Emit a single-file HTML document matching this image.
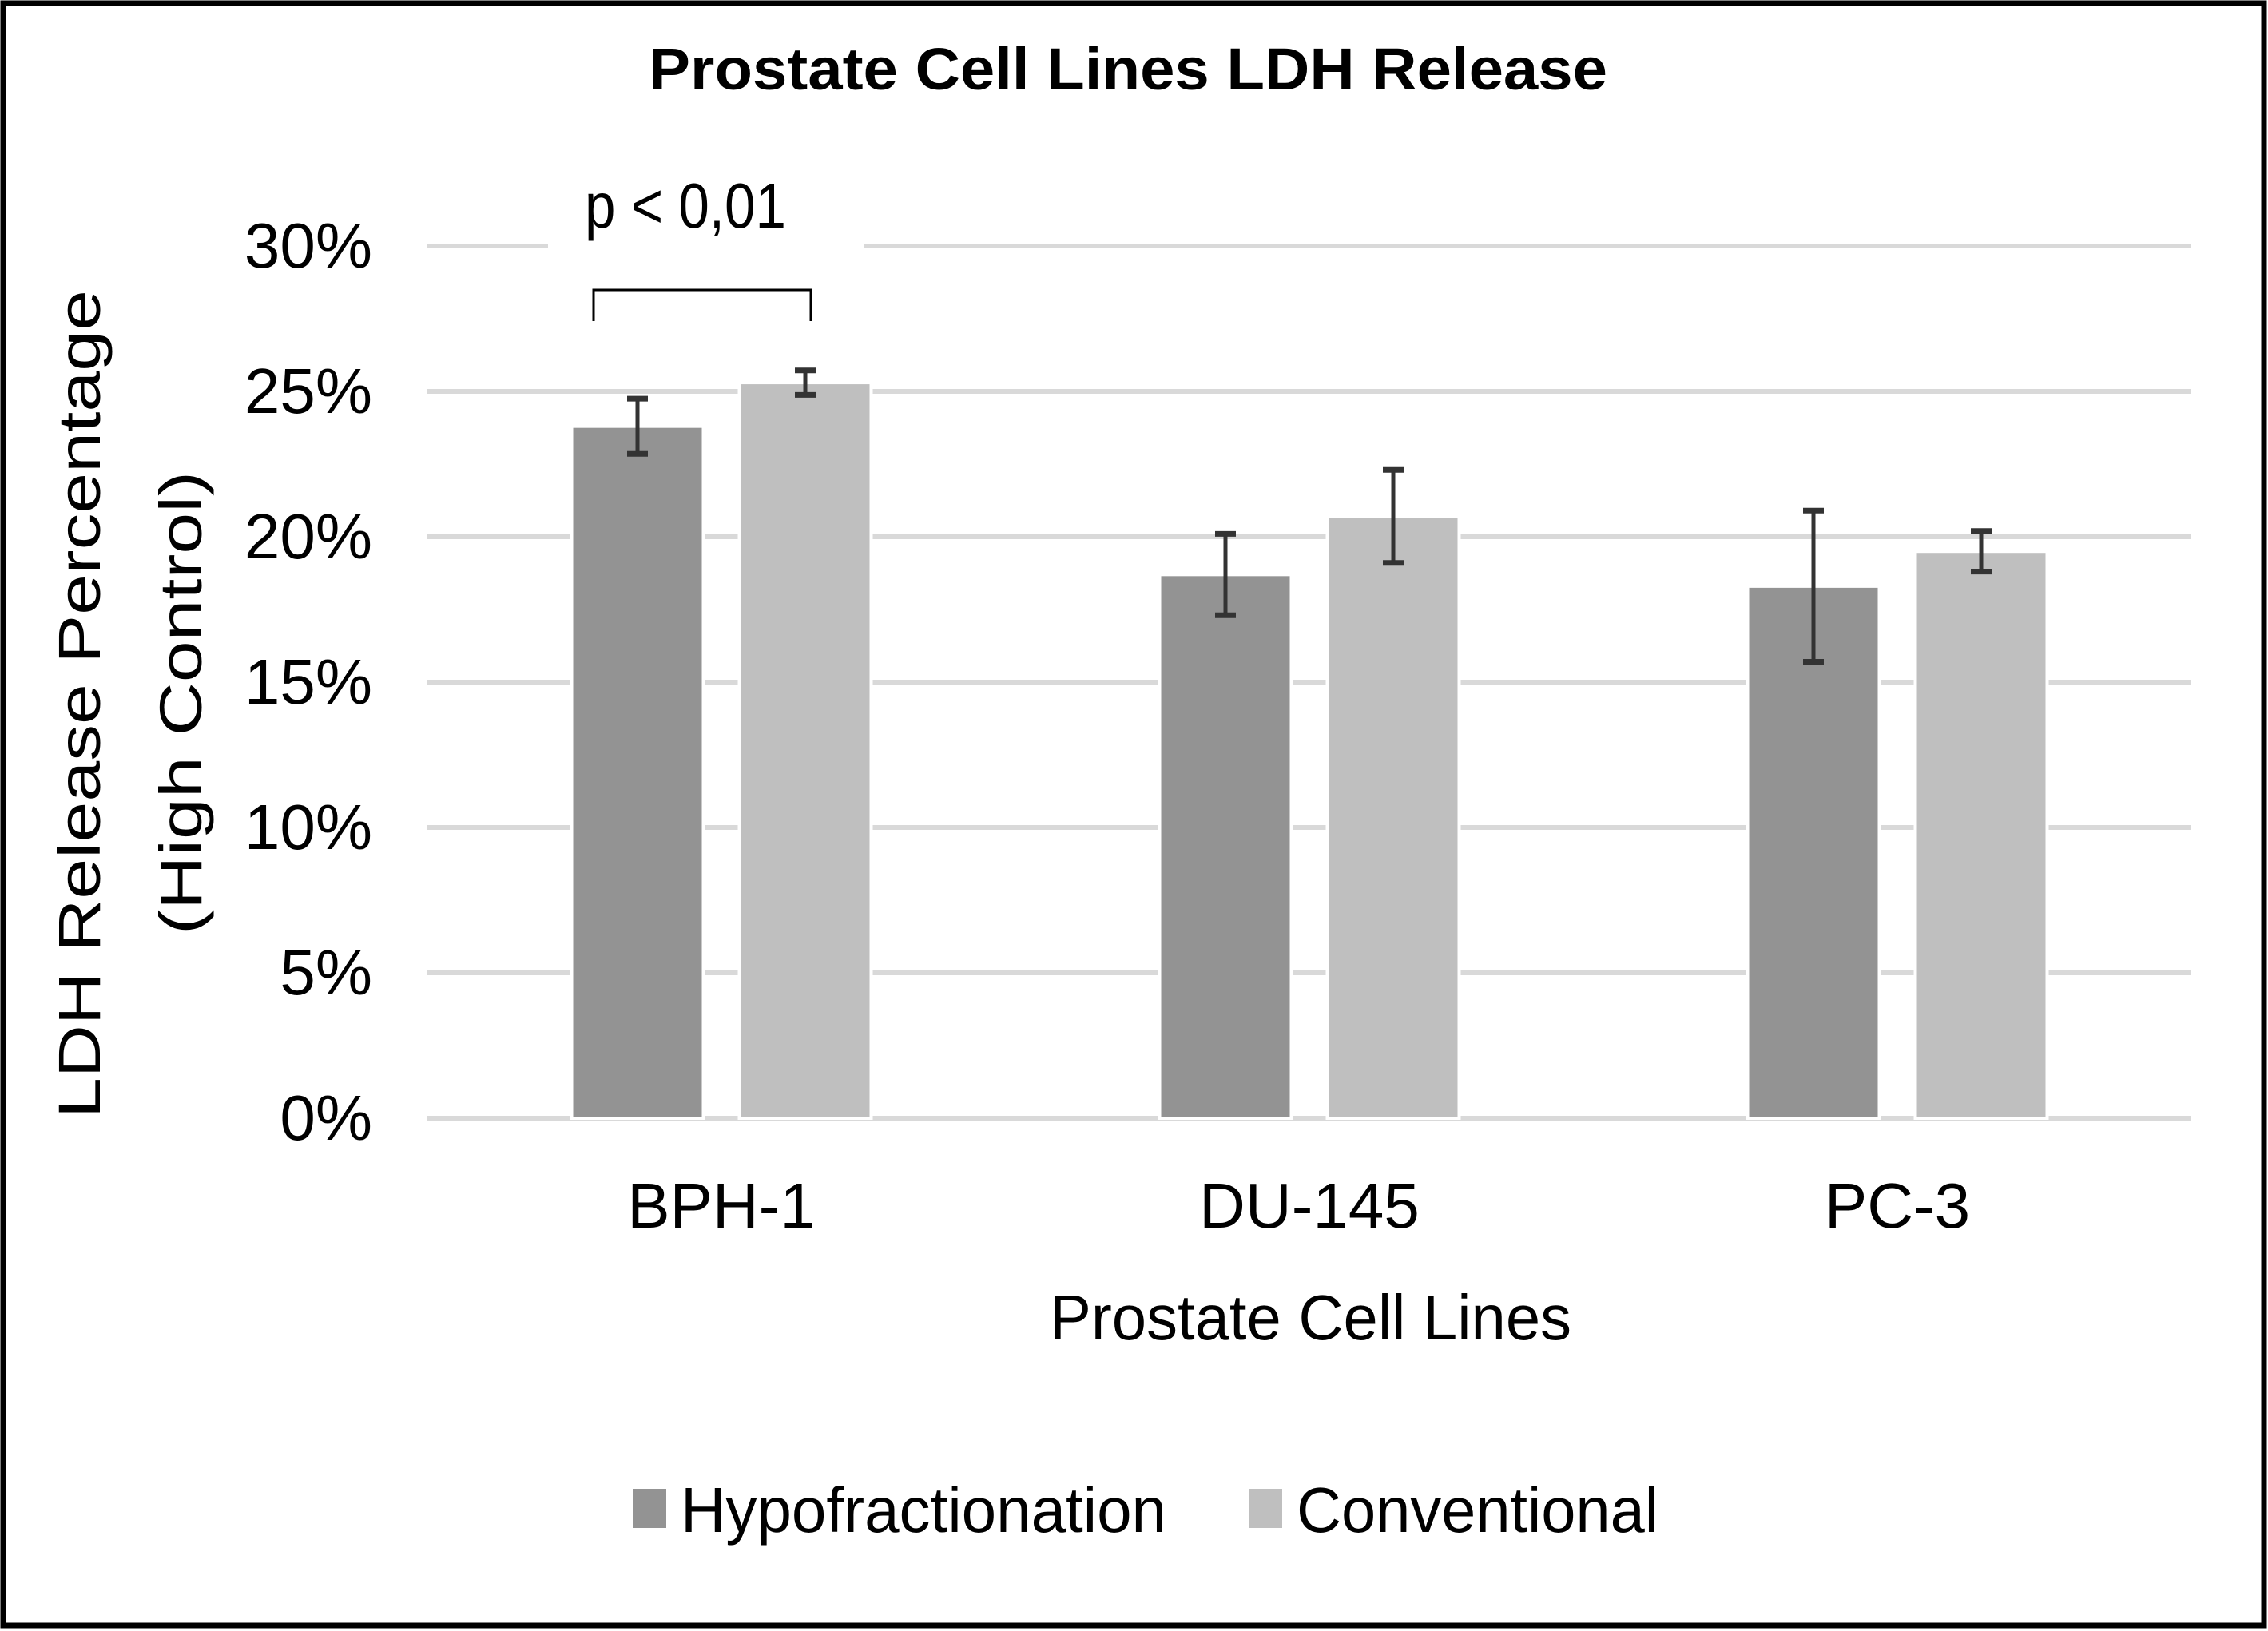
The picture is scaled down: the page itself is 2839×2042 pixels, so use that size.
<!DOCTYPE html>
<html><head><meta charset="utf-8"><style>
html,body{margin:0;padding:0;background:#fff}
svg{display:block}
text{font-family:"Liberation Sans",sans-serif;fill:#000}
</style></head><body>
<svg id="chart" width="2839" height="2042" viewBox="0 0 2839 2042" xmlns="http://www.w3.org/2000/svg">
<rect x="4" y="4" width="2830" height="2031" fill="#fff" stroke="#000" stroke-width="7"/>
<text x="812" y="112" font-size="74" font-weight="bold" textLength="1200" lengthAdjust="spacingAndGlyphs">Prostate Cell Lines LDH Release</text>
<g id="grid"></g>
<g id="yticks"></g>
<g id="bars"></g>
<g id="errs"></g>
<g id="xlabels"></g>
<rect x="686" y="290" width="396" height="40" fill="#fff"/>
<text x="732" y="285" font-size="80" textLength="252" lengthAdjust="spacingAndGlyphs">p &lt; 0,01</text>
<path d="M743 402 V363 H1015 V402" fill="none" stroke="#000" stroke-width="3"/>
<g>
<text transform="translate(125,1400) rotate(-90)" font-size="74" textLength="1037" lengthAdjust="spacingAndGlyphs">LDH Release Percentage</text>
<text transform="translate(252,1170) rotate(-90)" font-size="74" textLength="580" lengthAdjust="spacingAndGlyphs">(High Control)</text>
</g>
<text x="1314" y="1677" font-size="80" textLength="653" lengthAdjust="spacingAndGlyphs">Prostate Cell Lines</text>
<g>
<g>
<rect x="792" y="1864" width="42" height="49" fill="#939393"/>
<text x="852" y="1918" font-size="80" textLength="608" lengthAdjust="spacingAndGlyphs">Hypofractionation</text>
</g>
<g>
<rect x="1563" y="1864" width="42" height="49" fill="#bfbfbf"/>
<text x="1623" y="1918" font-size="80" textLength="453" lengthAdjust="spacingAndGlyphs">Conventional</text>
</g>
</g>
</svg>
<script>
const categories = ["BPH-1", "DU-145", "PC-3"];
const seriesNames = ["Hypofractionation", "Conventional"];
const hypoValues = [23.8, 18.7, 18.3];
const convValues = [25.3, 20.7, 19.5];
const hypoErrors = [0.95, 1.4, 2.6];
const convErrors = [0.42, 1.6, 0.7];
const yTicks = [0, 5, 10, 15, 20, 25, 30];
const yTickLabels = ["0%", "5%", "10%", "15%", "20%", "25%", "30%"];

const NS = "http://www.w3.org/2000/svg";
const plotL = 535, plotR = 2743, y0 = 1400, y30 = 308;
const y = v => y0 - (v / 30) * (y0 - y30);
const band = (plotR - plotL) / categories.length;
const xc = i => plotL + band * (i + 0.5);
const barW = 165, off = 105;
function mk(tag, attrs, parent) {
  const e = document.createElementNS(NS, tag);
  for (const k in attrs) e.setAttribute(k, attrs[k]);
  parent.appendChild(e);
  return e;
}
const grid = document.getElementById("grid");
const yt = document.getElementById("yticks");
yTicks.forEach((t, i) => {
  const l = mk("line", {x1: plotL, x2: plotR, y1: y(t), y2: y(t), stroke: "#d9d9d9", "stroke-width": 6}, grid);
  
  
  const tx = mk("text", {x: 466, y: y(t) + 27, "font-size": 80, "text-anchor": "end"}, yt);
  tx.textContent = yTickLabels[i];
  
  
});
const bars = document.getElementById("bars");
const errs = document.getElementById("errs");
const xl = document.getElementById("xlabels");
const series = [
  {vals: hypoValues, errs: hypoErrors, color: "#939393", dx: -off, key: "hypo"},
  {vals: convValues, errs: convErrors, color: "#bfbfbf", dx: off, key: "conv"}
];
categories.forEach((c, i) => {
  series.forEach(s => {
    const cx = xc(i) + s.dx;
    const v = s.vals[i];
    const r = mk("rect", {x: cx - barW / 2, y: y(v), width: barW, height: y0 - y(v), fill: s.color, stroke: "#fff", "stroke-width": 4}, bars);
    
    
    const e = s.errs[i];
    const g = mk("g", {stroke: "#333", "stroke-width": 5, fill: "none"}, errs);
    
    
    mk("line", {x1: cx, x2: cx, y1: y(v + e), y2: y(v - e)}, g);
    mk("line", {x1: cx - 13, x2: cx + 13, y1: y(v + e), y2: y(v + e), "stroke-width": 7}, g);
    mk("line", {x1: cx - 13, x2: cx + 13, y1: y(v - e), y2: y(v - e), "stroke-width": 7}, g);
  });
  const t = mk("text", {x: xc(i), y: 1537, "font-size": 80, "text-anchor": "middle"}, xl);
  t.textContent = c;
  
  
});
</script>
</body></html>
